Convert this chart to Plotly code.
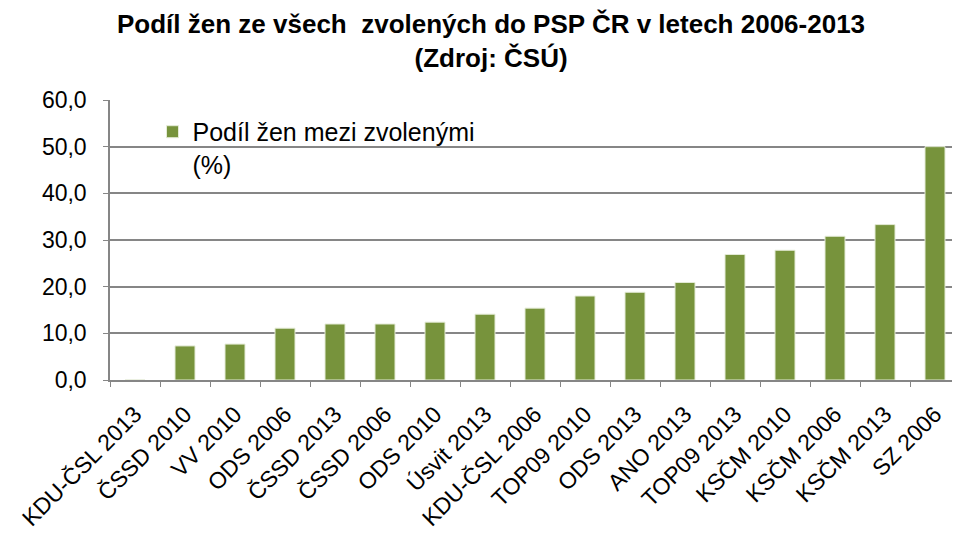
import plotly.graph_objects as go

categories = ["KDU-ČSL 2013", "ČSSD 2010", "VV 2010", "ODS 2006", "ČSSD 2013", "ČSSD 2006",
              "ODS 2010", "Úsvit 2013", "KDU-ČSL 2006", "TOP09 2010", "ODS 2013", "ANO 2013",
              "TOP09 2013", "KSČM 2010", "KSČM 2006", "KSČM 2013", "SZ 2006"]
values = [0.0, 7.3, 7.7, 11.1, 12.0, 12.0, 12.4, 14.1, 15.4, 18.0, 18.8, 20.9,
          26.9, 27.8, 30.8, 33.3, 50.0]
series_name = "Podíl žen mezi zvolenými<br>(%)"
y_ticks = [0, 10, 20, 30, 40, 50, 60]
title_text = "<b>Podíl žen ze všech  zvolených do PSP ČR v letech 2006-2013<br>(Zdroj: ČSÚ)</b>"

fig = go.Figure()
fig.add_trace(go.Bar(
    x=categories, y=values, name=series_name, width=0.4,
    marker=dict(color="#77933C", line=dict(color="#E4EBD6", width=1)),
    showlegend=True,
))

font = "Liberation Sans, Arial, sans-serif"
fig.update_layout(
    width=960, height=533,
    paper_bgcolor="white", plot_bgcolor="white",
    margin=dict(l=102, r=8, t=92, b=161, autoexpand=False),
    separators=", ",
    font=dict(family=font, size=22, color="black"),
    showlegend=True,
    legend=dict(x=0.05, y=0.968, xanchor="left", yanchor="top", valign="top",
                bgcolor="rgba(0,0,0,0)", font=dict(size=25), itemwidth=30,
                traceorder="normal"),
    annotations=[dict(
        text=title_text, xref="paper", yref="paper",
        x=(483 - 102) / 850, y=(372 + 1) / 280, xanchor="center", yanchor="top",
        showarrow=False, font=dict(family=font, size=26, color="black"),
        align="center",
    )],
)
fig.update_xaxes(
    type="category", tickangle=-45, showgrid=False, automargin=False,
    showline=True, linecolor="#868686", linewidth=1.5,
    ticks="outside", ticklen=5, tickcolor="#868686", tickson="boundaries",
    tickfont=dict(size=23), ticklabelstandoff=10,
)
fig.update_yaxes(
    range=[0, 60], tickvals=y_ticks, tickformat=".1f", automargin=False,
    showgrid=True, gridcolor="#868686", gridwidth=1.5,
    showline=True, linecolor="#868686", linewidth=1.5,
    ticks="outside", ticklen=5, tickcolor="#868686",
    zeroline=False, tickfont=dict(size=23), ticklabelstandoff=12,
)

fig.write_html("out.html")
